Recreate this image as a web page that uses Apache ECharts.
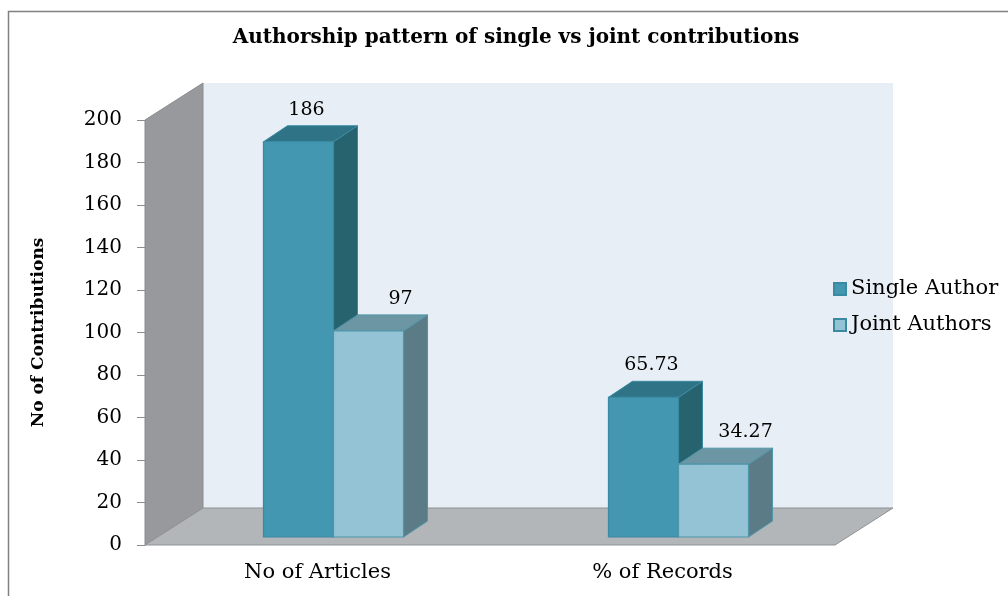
<!DOCTYPE html>
<html>
<head>
<meta charset="utf-8">
<script src="https://cdn.jsdelivr.net/npm/echarts@6/dist/echarts.min.js"></script>
<style>html,body{margin:0;padding:0;background:#fff}#c{width:1008px;height:596px}</style>
</head>
<body>
<div id="c"></div>
<script>
var categories = ['No of Articles', '% of Records'];
var singleAuthor = [186, 65.73];
var jointAuthors = [97, 34.27];
var seriesNames = ['Single Author', 'Joint Authors'];
var yTicks = [0, 20, 40, 60, 80, 100, 120, 140, 160, 180, 200];

var FONT = '"DejaVu Serif", "Liberation Serif", serif';
var DX = 58, DY = -37;      // wall depth
var FX = 16, FY = -8;       // bar front offset into the depth
var BDX = 24, BDY = -16;    // bar depth
var BAR_FRAC = 0.203;
var LABEL_SHIFT = [8, 32];

var palettes = [
  {front: '#4397b0', top: '#2e7386', side: '#27626f', border: '#3a8aa2'},
  {front: '#93c3d5', top: '#6c96a3', side: '#5b7c86', border: '#4f96aa'}
];

function barRender(sIdx) {
  return function (params, api) {
    var cat = api.value(0), v = api.value(1);
    var base = api.coord([cat, 0]);
    var top = api.coord([cat, v]);
    var band = api.size([1, 0])[0];
    var w = band * BAR_FRAC;
    var cx = base[0] + FX;
    var xl = sIdx === 0 ? cx - w : cx;
    var xr = xl + w;
    var yb = base[1] + FY, yt = top[1] + FY;
    var p = palettes[sIdx];
    return {
      type: 'group',
      children: [
        {type: 'polygon', shape: {points: [[xr, yt], [xr + BDX, yt + BDY], [xr + BDX, yb + BDY], [xr, yb]]},
          style: {fill: p.side, stroke: p.border, lineWidth: 1}},
        {type: 'polygon', shape: {points: [[xl, yt], [xr, yt], [xr + BDX, yt + BDY], [xl + BDX, yt + BDY]]},
          style: {fill: p.top, stroke: p.border, lineWidth: 1}},
        {type: 'rect', shape: {x: xl, y: yt, width: w, height: yb - yt},
          style: {fill: p.front, stroke: p.border, lineWidth: 1.2}},
        {type: 'text', style: {text: String(v), x: (xl + xr) / 2 + LABEL_SHIFT[sIdx], y: yt - 32,
          textAlign: 'center', textVerticalAlign: 'middle', fill: '#000', font: '19px ' + FONT}}
      ]
    };
  };
}

function wallRender(params, api) {
  var cs = params.coordSys;
  var x0 = cs.x, x1 = cs.x + cs.width, y0 = cs.y, y1 = cs.y + cs.height;
  return {
    type: 'group',
    children: [
      {type: 'rect', shape: {x: x0 + DX, y: y0 + DY, width: cs.width, height: cs.height},
        style: {fill: '#e8eef5'}},
      {type: 'polygon', shape: {points: [[x0, y0], [x0 + DX, y0 + DY], [x0 + DX, y1 + DY], [x0, y1]]},
        style: {fill: '#97999c', stroke: '#8a8c8f', lineWidth: 1}},
      {type: 'polygon', shape: {points: [[x0, y1], [x1, y1], [x1 + DX, y1 + DY], [x0 + DX, y1 + DY]]},
        style: {fill: '#b3b6b9', stroke: '#8f9295', lineWidth: 1}}
    ]
  };
}

function toData(arr) { return arr.map(function (v, i) { return [i, v]; }); }

var chart = echarts.init(document.getElementById('c'), null, {renderer: 'canvas'});
chart.setOption({
  backgroundColor: '#fff',
  animation: false,
  title: {
    text: 'Authorship pattern of single vs joint contributions',
    top: 23, left: 511, textAlign: 'center',
    textStyle: {fontFamily: FONT, fontWeight: 'bold', fontSize: 20, color: '#000'}
  },
  graphic: [{
    type: 'rect', z: -10, shape: {x: 8.5, y: 11.5, width: 1100, height: 700},
    style: {fill: 'none', stroke: '#808080', lineWidth: 1.5}
  }],
  legend: {
    orient: 'vertical', left: 828, top: 272, icon: 'rect',
    itemWidth: 12, itemHeight: 12, itemGap: 12,
    data: seriesNames,
    textStyle: {fontFamily: FONT, fontSize: 21, color: '#000', lineHeight: 24}
  },
  grid: {left: 145, right: 173, top: 120, bottom: 51, containLabel: false},
  xAxis: {
    type: 'category', data: categories,
    axisLine: {show: false}, axisTick: {show: false},
    axisLabel: {margin: 17, fontFamily: FONT, fontSize: 21, color: '#000'}
  },
  yAxis: {
    type: 'value', min: yTicks[0], max: yTicks[yTicks.length - 1], interval: 20,
    name: 'No of Contributions', nameLocation: 'middle', nameGap: 98, nameRotate: 90,
    nameTextStyle: {fontFamily: FONT, fontWeight: 'bold', fontSize: 17, color: '#000'},
    axisLine: {show: true, lineStyle: {color: '#8a8c8f'}},
    axisTick: {show: true, length: 8, lineStyle: {color: '#8a8c8f'}},
    splitLine: {show: false},
    axisLabel: {margin: 23, fontFamily: FONT, fontSize: 20, color: '#000'}
  },
  series: [
    {type: 'custom', name: '_walls', data: [[0, 0]], renderItem: wallRender, z: 1, silent: true},
    {type: 'custom', name: seriesNames[0], data: toData(singleAuthor), renderItem: barRender(0), z: 2,
      itemStyle: {color: palettes[0].front, borderColor: palettes[0].border, borderWidth: 1}},
    {type: 'custom', name: seriesNames[1], data: toData(jointAuthors), renderItem: barRender(1), z: 3,
      itemStyle: {color: palettes[1].front, borderColor: palettes[0].border, borderWidth: 1}}
  ]
});
</script>
</body>
</html>
